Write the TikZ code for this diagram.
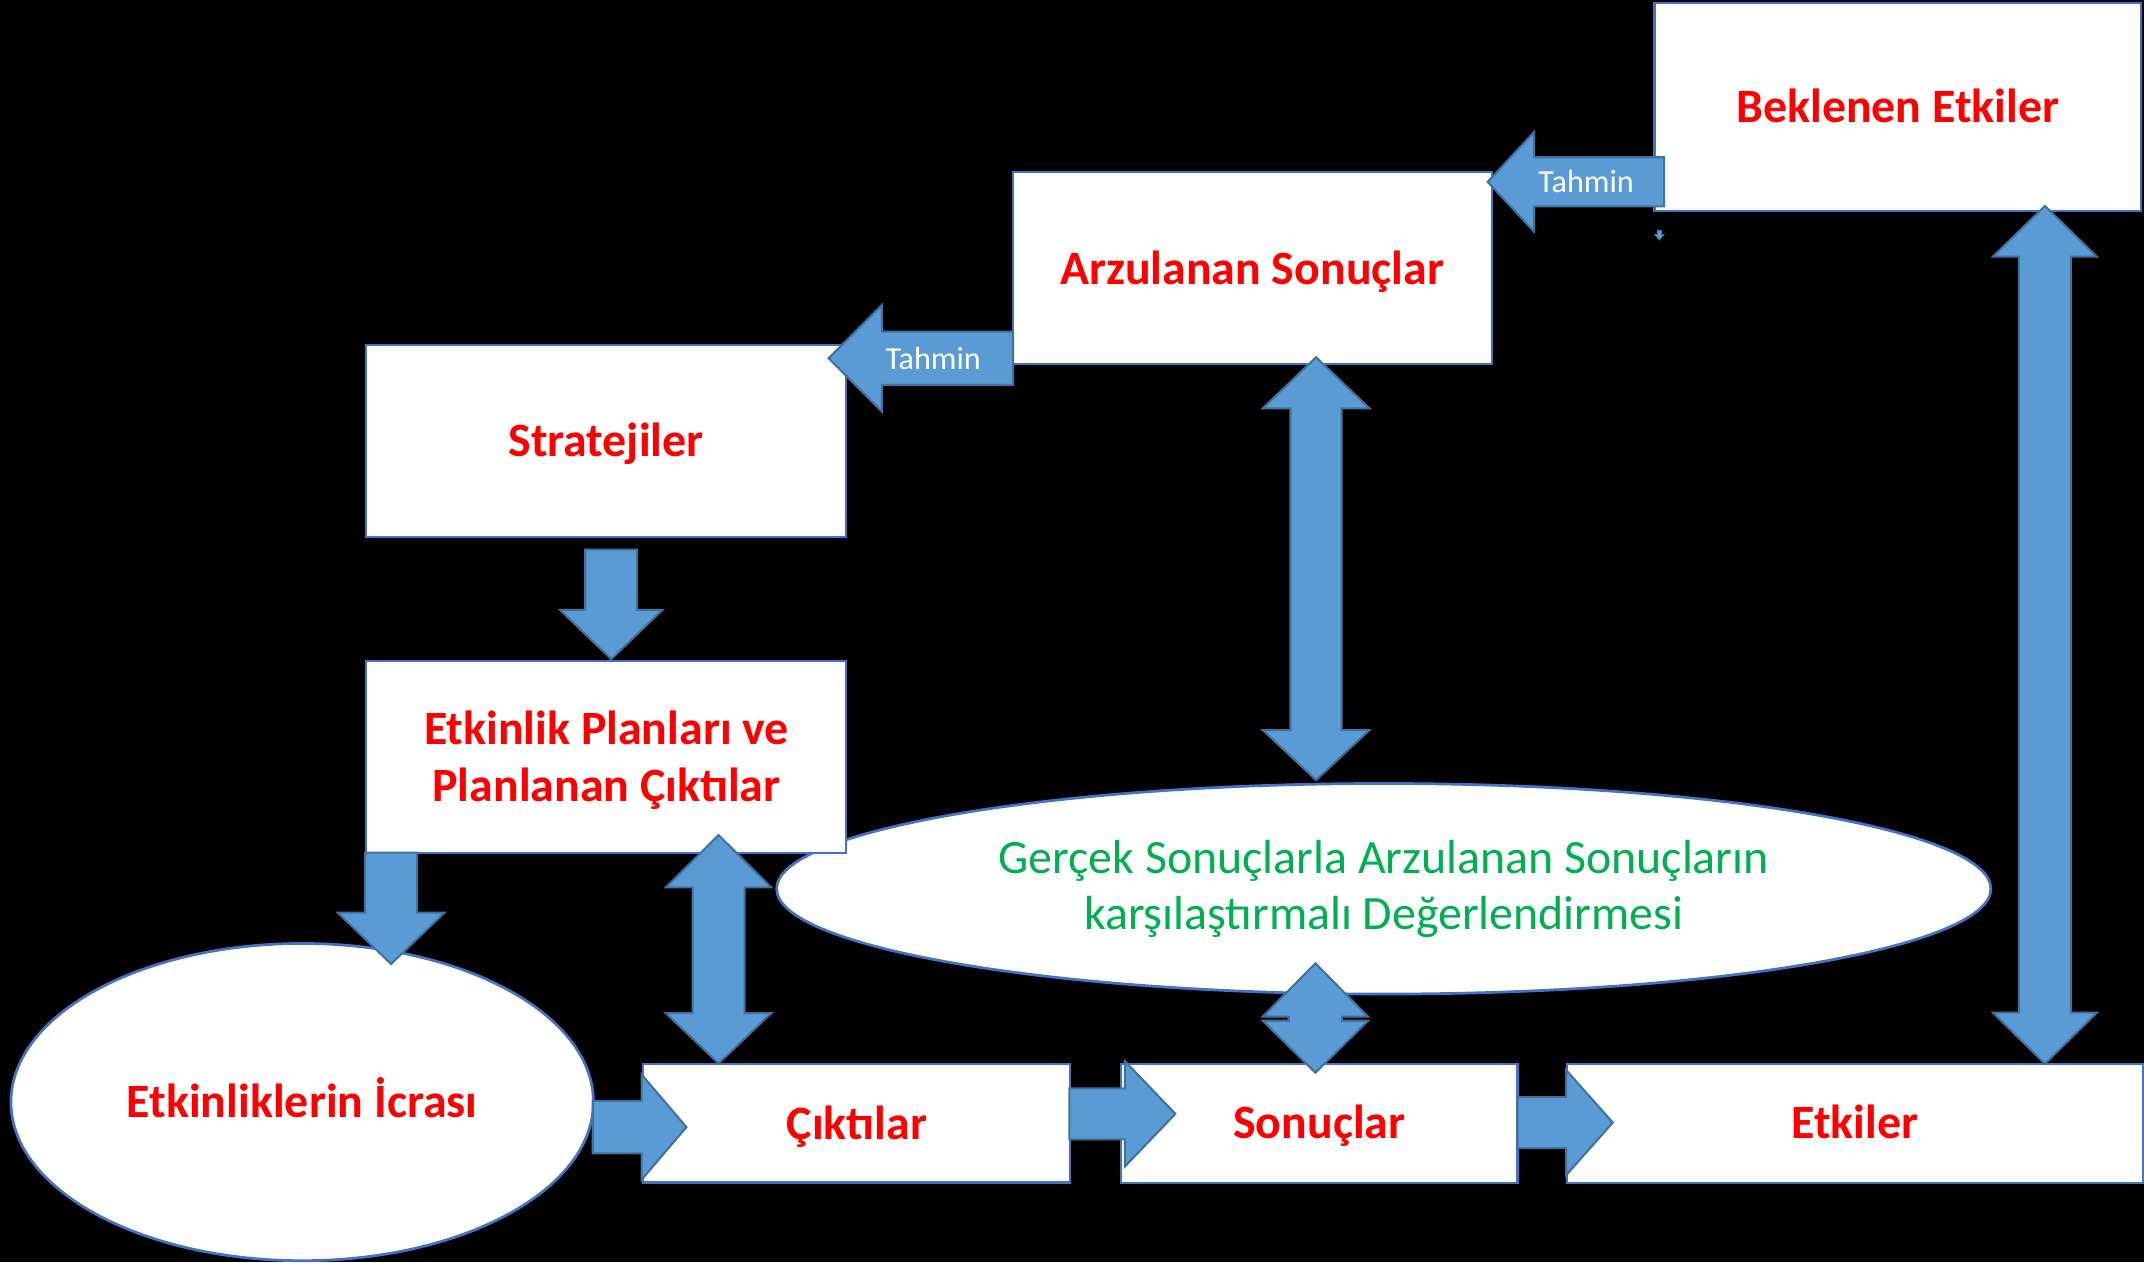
\documentclass[tikz,border=0pt]{standalone}
\usepackage{fontspec}
\setmainfont{Carlito}
\usetikzlibrary{shapes.geometric}
\definecolor{boxblue}{RGB}{68,114,196}
\definecolor{arrfill}{RGB}{91,155,213}
\definecolor{arrline}{RGB}{65,113,156}
\definecolor{evalgreen}{RGB}{0,176,80}
\definecolor{titlered}{RGB}{255,0,0}
% horizontal block arrow: tail x, head-back x, tip x, centre y, shaft half, head half
\newcommand{\harr}[6]{%
  \filldraw[blockarrow] (#1,#4-#5) -- (#2,#4-#5) -- (#2,#4-#6) -- (#3,#4) -- (#2,#4+#6) -- (#2,#4+#5) -- (#1,#4+#5) -- cycle;}
% vertical block arrow: centre x, tail y, head-back y, tip y, shaft half, head half
\newcommand{\varr}[6]{%
  \filldraw[blockarrow] (#1-#5,#2) -- (#1-#5,#3) -- (#1-#6,#3) -- (#1,#4) -- (#1+#6,#3) -- (#1+#5,#3) -- (#1+#5,#2) -- cycle;}
% vertical double block arrow: centre x, top tip, top base, bottom base, bottom tip, shaft half, head half
\newcommand{\dvarr}[7]{%
  \filldraw[blockarrow] (#1,#2) -- (#1+#7,#3) -- (#1+#6,#3) -- (#1+#6,#4) -- (#1+#7,#4) -- (#1,#5) -- (#1-#7,#4) -- (#1-#6,#4) -- (#1-#6,#3) -- (#1-#7,#3) -- cycle;}
\begin{document}
\begin{tikzpicture}[x=1pt,y=-1pt,
  box/.style={draw=boxblue, line width=1.5pt, fill=white, inner sep=0pt, align=center,
    text=titlered, font=\fontsize{35}{42}\selectfont\bfseries},
  oneline/.style={text height=23pt, text depth=0pt},
  oval/.style={ellipse, draw=boxblue, line width=2pt, fill=white, inner sep=0pt, align=center},
  blockarrow/.style={fill=arrfill, draw=arrline, line width=1.5pt, line join=miter},
  tahmin/.style={text=white, inner sep=0pt, text height=15pt, text depth=0pt, font=\fontsize{23.5}{28}\selectfont}]
\fill[black] (0,0) rectangle (1568,923);
\useasboundingbox (0,0) rectangle (1568,923);

% evaluation ellipse (behind the boxes)
\node[oval, minimum width=888pt, minimum height=154pt, text=evalgreen,
  font=\fontsize{35}{41}\selectfont] (eval) at (1012,650)
  {Gerçek Sonuçlarla Arzulanan Sonuçların\\karşılaştırmalı Değerlendirmesi};

% boxes
\node[box, oneline, minimum width=356pt, minimum height=152pt] (bek) at (1388,78) {Beklenen Etkiler};
\node[box, oneline, minimum width=350.5pt, minimum height=140.5pt] (arz) at (915.75,196.25) {Arzulanan Sonuçlar};
\node[box, oneline, minimum width=350.5pt, minimum height=140.5pt] (str) at (443.25,322.25) {Stratejiler};
\node[box, minimum width=351pt, minimum height=140pt] (etk) at (443.5,553.5) {};
\node[text=titlered, align=center, inner sep=0pt, font=\fontsize{35}{42}\selectfont\bfseries]
  (etktext) at (443.5,556) {Etkinlik Planları ve\\Planlanan Çıktılar};
\node[box, oneline, minimum width=312.3pt, minimum height=86.6pt] (cik) at (626.65,821.5) {Çıktılar};
\node[box, oneline, minimum width=289.8pt, minimum height=86.9pt] (son) at (964.9,821.45) {Sonuçlar};
\node[box, oneline, minimum width=420.7pt, minimum height=86.9pt] (etki) at (1356.65,821.45) {Etkiler};

% activities ellipse
\node[oval, oneline, minimum width=426pt, minimum height=232pt, text=titlered,
  font=\fontsize{35}{42}\selectfont\bfseries] (icra) at (221,806) {Etkinliklerin İcrası};

% block arrows
\harr{1217}{1122}{1088}{133}{18}{36.5}
\node[tahmin] (t1) at (1160,133) {Tahmin};
\harr{741}{645}{606}{262}{19.5}{39}
\node[tahmin] (t2) at (682.5,262.5) {Tahmin};
\varr{447}{402}{446}{482}{19}{37.5}
\varr{286}{623.6}{667.5}{705}{19}{39}
\dvarr{525.5}{610.7}{649}{741}{777.7}{19}{38.5}
\dvarr{962.5}{261.3}{298.6}{533.9}{570.5}{18.7}{39}
\dvarr{962}{704.5}{743.5}{746.5}{784.5}{19.5}{38.5}
\dvarr{1495.5}{150.6}{187.7}{740.6}{778}{19}{38}
\harr{433.5}{469.2}{502}{824.3}{19.2}{38.5}
\harr{782}{822.6}{859.6}{814.6}{18.6}{38.6}
\harr{1109.8}{1145.4}{1179.5}{821}{18.6}{38.4}
\begin{scope}[line width=0.6pt]
\filldraw[fill=arrfill, draw=arrline] (1212,168.5) -- (1212,171.5) -- (1210,171.5) -- (1213.5,175.5) -- (1217,171.5) -- (1215,171.5) -- (1215,168.5) -- cycle;
\end{scope}
\end{tikzpicture}
\end{document}
